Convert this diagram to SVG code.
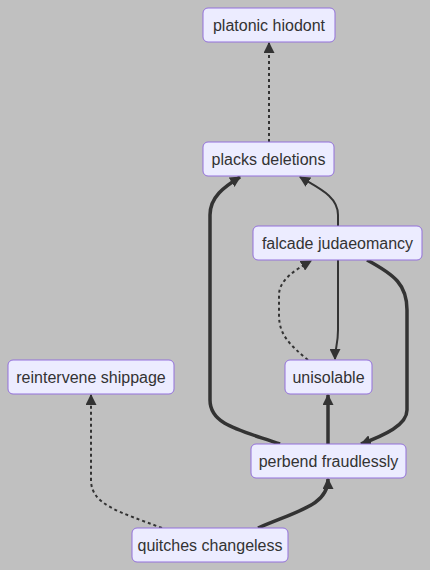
<svg xmlns="http://www.w3.org/2000/svg" width="430" height="570" viewBox="0 0 430 570">
<style>
.node rect{fill:#ECECFF;stroke:#9370DB;stroke-width:1}
.node text{font-family:"Liberation Sans",Arial,sans-serif;font-size:16px;fill:#333;text-anchor:middle;dominant-baseline:central}
.e{fill:none;stroke:#333;stroke-width:2}
.thick{stroke-width:3.5}
.dot{stroke-dasharray:3 3}
</style>
<defs>
<marker id="ah" viewBox="0 0 10 10" refX="9" refY="5" markerUnits="userSpaceOnUse" markerWidth="11" markerHeight="11" orient="auto">
<path d="M0,0 L10,5 L0,10 z" fill="#333"/>
</marker>
</defs>
<rect width="430" height="570" fill="#c0c0c0"/>
<g id="edges">
<path class="e dot" d="M269,142 L269,43" marker-end="url(#ah)"/>
<path class="e thick" d="M280,444 C240,430 210,425 210,400 L210,215 C210,197 224,187 240,177" marker-end="url(#ah)"/>
<path class="e" d="M338,226 L338,215 C338,196 318,188 300,177" marker-end="url(#ah)"/>
<path class="e" d="M338,260 L338,330 C338,345 335,348 335,359" marker-end="url(#ah)"/>
<path class="e dot" d="M308,360 C290,345 279,335 279,315 L279,295 C279,280 295,270 311,261" marker-end="url(#ah)"/>
<path class="e thick" d="M367,260 C395,275 407,285 407,310 L407,410 C407,425 385,435 361,444" marker-end="url(#ah)"/>
<path class="e thick" d="M328,444 L328,395" marker-end="url(#ah)"/>
<path class="e thick" d="M258,528 C300,510 328,505 328,479" marker-end="url(#ah)"/>
<path class="e dot" d="M162,528 C120,512 91,505 91,480 L91,395" marker-end="url(#ah)"/>
</g>
<g id="platonic" class="node"><rect x="203" y="8" width="132" height="34" rx="5"/><text x="269" y="25">platonic hiodont</text></g>
<g id="placks" class="node"><rect x="203" y="142" width="131" height="34" rx="5"/><text x="268.5" y="159">placks deletions</text></g>
<g id="falcade" class="node"><rect x="253" y="226" width="169" height="34" rx="5"/><text x="337.5" y="243">falcade judaeomancy</text></g>
<g id="unisolable" class="node"><rect x="285" y="360" width="87" height="34" rx="5"/><text x="328.5" y="377">unisolable</text></g>
<g id="reintervene" class="node"><rect x="8" y="360" width="166" height="34" rx="5"/><text x="91" y="377">reintervene shippage</text></g>
<g id="perbend" class="node"><rect x="251" y="444" width="155" height="34" rx="5"/><text x="328.5" y="461">perbend fraudlessly</text></g>
<g id="quitches" class="node"><rect x="132" y="528" width="156" height="34" rx="5"/><text x="210" y="545">quitches changeless</text></g>
</svg>
